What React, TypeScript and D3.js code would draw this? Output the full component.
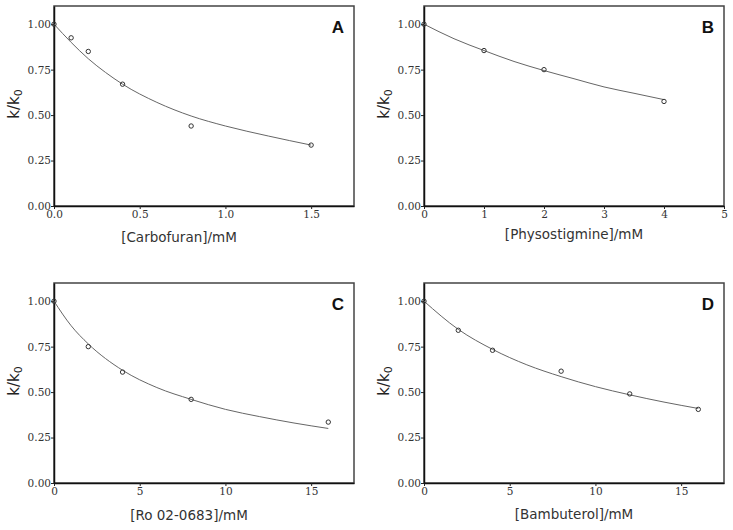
import React, { useRef, useEffect } from "react";
import * as d3 from "d3";

const W = 733;
const H = 530;

// A - carbofuran
const carbofuranConc = [0, 0.1, 0.2, 0.4, 0.8, 1.5];
const carbofuranRatio = [1.0, 0.925, 0.85, 0.67, 0.44, 0.335];
const carbofuranFitX = [0, 0.1, 0.2, 0.3, 0.4, 0.6, 0.8, 1.0, 1.25, 1.5];
const carbofuranFitY = [1.0, 0.9, 0.81, 0.735, 0.67, 0.57, 0.495, 0.44, 0.385, 0.335];
const carbofuranTicks = [0, 0.5, 1.0, 1.5];

// B - physostigmine
const physoConc = [0, 1, 2, 4];
const physoRatio = [1.0, 0.855, 0.75, 0.575];
const physoFitX = [0, 0.5, 1, 1.5, 2, 2.5, 3, 3.5, 4];
const physoFitY = [1.0, 0.92, 0.855, 0.795, 0.745, 0.7, 0.655, 0.62, 0.585];
const physoTicks = [0, 1, 2, 3, 4, 5];

// C - Ro 02-0683
const roConc = [0, 2, 4, 8, 16];
const roRatio = [1.0, 0.75, 0.61, 0.46, 0.335];
const roFitX = [0, 1, 2, 4, 6, 8, 10, 12, 14, 16];
const roFitY = [1.0, 0.865, 0.765, 0.62, 0.525, 0.46, 0.405, 0.365, 0.33, 0.3];
const roTicks = [0, 5, 10, 15];

// D - bambuterol
const bambuterolConc = [0, 2, 4, 8, 12, 16];
const bambuterolRatio = [1.0, 0.84, 0.73, 0.615, 0.49, 0.405];
const bambuterolFitX = [0, 2, 4, 6, 8, 10, 12, 14, 16];
const bambuterolFitY = [1.0, 0.845, 0.735, 0.65, 0.585, 0.53, 0.485, 0.445, 0.41];
const bambuterolTicks = [0, 5, 10, 15];

const yTicks = [0, 0.25, 0.5, 0.75, 1.0];

const panels = [
  { letter: "A", title: "[Carbofuran]/mM", xs: carbofuranConc, ys: carbofuranRatio, fx: carbofuranFitX, fy: carbofuranFitY,
    xMax: 1.75, ticks: carbofuranTicks, fmt: ".1f", left: 54, top: 6, titleX: 179, titleY: 242 },
  { letter: "B", title: "[Physostigmine]/mM", xs: physoConc, ys: physoRatio, fx: physoFitX, fy: physoFitY,
    xMax: 5, ticks: physoTicks, fmt: "d", left: 424, top: 6, titleX: 574, titleY: 239 },
  { letter: "C", title: "[Ro 02-0683]/mM", xs: roConc, ys: roRatio, fx: roFitX, fy: roFitY,
    xMax: 17.5, ticks: roTicks, fmt: "d", left: 54, top: 283, titleX: 189, titleY: 520 },
  { letter: "D", title: "[Bambuterol]/mM", xs: bambuterolConc, ys: bambuterolRatio, fx: bambuterolFitX, fy: bambuterolFitY,
    xMax: 17.5, ticks: bambuterolTicks, fmt: "d", left: 424, top: 283, titleX: 574, titleY: 519 },
];

const App = () => {
  const svgRef = useRef<SVGSVGElement>(null);

  useEffect(() => {
    const svg = d3.select(svgRef.current);
    svg.selectAll("*").remove();

    const pw = 300;
    const ph = 200;

    panels.forEach((p) => {
      const g = svg.append("g").attr("transform", `translate(${p.left},${p.top})`);
      const x = d3.scaleLinear().domain([0, p.xMax]).range([0, pw]);
      const y = d3.scaleLinear().domain([0, 1.1]).range([ph, 0]);

      // frame
      g.append("rect")
        .attr("width", pw).attr("height", ph)
        .attr("fill", "none")
        .attr("stroke", "#444")
        .attr("stroke-width", 1.5);

      const xAxis = g.append("g")
        .attr("transform", `translate(0,${ph})`)
        .call(d3.axisBottom(x).tickValues(p.ticks).tickFormat(d3.format(p.fmt)).tickSize(3).tickPadding(2).tickSizeOuter(0));
      const yAxis = g.append("g")
        .call(d3.axisLeft(y).tickValues(yTicks).tickFormat(d3.format(".2f")).tickSize(3).tickPadding(0).tickSizeOuter(0));

      [xAxis, yAxis].forEach((a) => {
        a.select(".domain").attr("stroke", "#111").attr("stroke-width", 1.5);
        a.selectAll(".tick line").attr("stroke", "#222");
        a.selectAll(".tick text")
          .attr("fill", "#333")
          .style("font-family", "'DejaVu Serif', serif")
          .style("font-size", "10.5px");
      });

      // fitted curve
      const fit = p.fx.map((v, i) => [v, p.fy[i]] as [number, number]);
      g.append("path")
        .datum(fit)
        .attr("fill", "none")
        .attr("stroke", "#666")
        .attr("stroke-width", 1)
        .attr("d", d3.line<[number, number]>().x(d => x(d[0])).y(d => y(d[1])).curve(d3.curveMonotoneX));

      // data points
      g.append("g")
        .selectAll("circle")
        .data(p.xs.map((v, i) => [v, p.ys[i]]))
        .join("circle")
        .attr("cx", d => x(d[0]))
        .attr("cy", d => y(d[1]))
        .attr("r", 2.2)
        .attr("fill", "none")
        .attr("stroke", "#333")
        .attr("stroke-width", 1);

      // panel letter
      g.append("text")
        .attr("x", pw - 10)
        .attr("y", 27)
        .attr("text-anchor", "end")
        .style("font-family", "'Liberation Sans', Arial, sans-serif")
        .style("font-weight", "bold")
        .style("font-size", "17px")
        .attr("fill", "#111")
        .text(p.letter);

      // y title
      const yt = svg.append("text")
        .attr("transform", `translate(${p.left - 35},${p.top + ph / 2 - 2}) rotate(-90)`)
        .attr("text-anchor", "middle")
        .style("font-family", "'DejaVu Sans', Verdana, sans-serif")
        .style("font-size", "15px")
        .attr("fill", "#222");
      yt.append("tspan").text("k/k");
      yt.append("tspan").attr("dy", 3).style("font-size", "11px").text("0");

      // x title
      svg.append("text")
        .attr("x", p.titleX)
        .attr("y", p.titleY)
        .attr("text-anchor", "middle")
        .style("font-family", "'DejaVu Sans', Verdana, sans-serif")
        .style("font-size", "13.5px")
        .attr("fill", "#333")
        .text(p.title);
    });
  }, []);

  return (
    <svg
      ref={svgRef}
      width={W}
      height={H}
      style={{ position: "absolute", left: 0, top: 0, background: "#fff" }}
    />
  );
};

export default App;
